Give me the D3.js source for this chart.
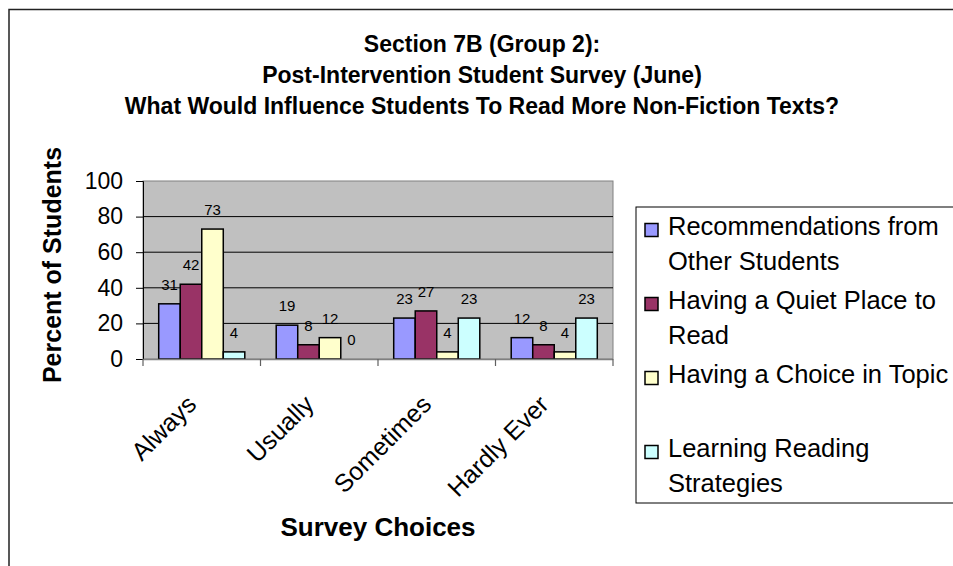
<!DOCTYPE html>
<html>
<head>
<meta charset="utf-8">
<script src="https://cdn.jsdelivr.net/npm/d3@7"></script>
<style>
  body { margin: 0; background: #fff; }
  svg { display: block; font-family: "Liberation Sans", Arial, sans-serif; }
</style>
</head>
<body>
<svg id="chart"></svg>
<script>
// chart data
const categories = ["Always", "Usually", "Sometimes", "Hardly Ever"];
const seriesNames = ["Recommendations from Other Students", "Having a Quiet Place to Read", "Having a Choice in Topic", "Learning Reading Strategies"];
const recommendations = [31, 19, 23, 12];
const quietPlace = [42, 8, 27, 8];
const choiceTopic = [73, 12, 4, 4];
const strategies = [4, 0, 23, 23];
const yTicks = [0, 20, 40, 60, 80, 100];
const titleLines = ["Section 7B (Group 2):", "Post-Intervention Student Survey (June)", "What Would Influence Students To Read More Non-Fiction Texts?"];
const legendLines = [["Recommendations from", "Other Students"], ["Having a Quiet Place to", "Read"], ["Having a Choice in Topic", ""], ["Learning Reading", "Strategies"]];

const colors = ["#9999ff", "#993366", "#ffffcc", "#ccffff"];
const allSeries = [recommendations, quietPlace, choiceTopic, strategies];

let width = 953;
let height = 566;
let plot = {left: 143, right: 613, top: 181, bottom: 359};

const svg = d3.select('#chart').attr('width', width).attr('height', height);

// outer chart border
svg.append('rect').attr('x', 9).attr('y', 9.5).attr('width', 1000).attr('height', 1000)
  .attr('fill', 'none').attr('stroke', '#222').attr('stroke-width', 1.5);

// scales
let xScale = d3.scaleBand().domain(categories).range([plot.left, plot.right]);
let subScale = d3.scaleBand().domain(d3.range(seriesNames.length))
  .range([0, xScale.bandwidth()]).paddingOuter(0.73);
let yScale = d3.scaleLinear().domain([0, 100]).range([plot.bottom, plot.top]);

// plot background
svg.append('rect').attr('x', plot.left).attr('y', plot.top)
  .attr('width', plot.right - plot.left).attr('height', plot.bottom - plot.top)
  .attr('fill', '#c0c0c0').attr('stroke', '#808080').attr('stroke-width', 1);

// gridlines
svg.append('g').selectAll('line').data(yTicks.filter(t => t > 0 && t < 100)).enter().append('line')
  .attr('x1', plot.left).attr('x2', plot.right)
  .attr('y1', d => yScale(d)).attr('y2', d => yScale(d))
  .attr('stroke', '#000').attr('stroke-width', 1);

// bars
let barData = [];
categories.forEach((c, i) => {
  allSeries.forEach((s, j) => barData.push({cat: c, s: j, v: s[i]}));
});

svg.append('g').selectAll('rect').data(barData.filter(d => d.v > 0)).enter().append('rect')
  .attr('x', d => xScale(d.cat) + subScale(d.s))
  .attr('width', subScale.bandwidth())
  .attr('y', d => yScale(d.v))
  .attr('height', d => yScale(0) - yScale(d.v))
  .attr('fill', d => colors[d.s])
  .attr('stroke', '#000').attr('stroke-width', 1.5);

// value labels
svg.append('g').selectAll('text').data(barData).enter().append('text')
  .attr('x', d => xScale(d.cat) + subScale(d.s) + subScale.bandwidth() / 2)
  .attr('y', d => yScale(d.v) - 14)
  .attr('text-anchor', 'middle')
  .attr('font-size', 15)
  .attr('fill', '#000')
  .text(d => d.v);

// y axis
let yAxis = d3.axisLeft(yScale).tickValues(yTicks).tickSize(7).tickPadding(13);
let yG = svg.append('g').attr('transform', 'translate(' + plot.left + ',0)').call(yAxis);
yG.select('.domain').attr('stroke', '#000');
yG.selectAll('.tick line').attr('stroke', '#000');
yG.selectAll('.tick text').attr('font-size', 23).attr('font-family', '"Liberation Sans", Arial, sans-serif').attr('fill', '#000');

// x axis line and boundary ticks
svg.append('line').attr('x1', plot.left).attr('x2', plot.right)
  .attr('y1', plot.bottom + 0.5).attr('y2', plot.bottom + 0.5)
  .attr('stroke', '#808080').attr('stroke-width', 1.5);
let bounds = categories.map(c => xScale(c)).concat([xScale(categories[categories.length - 1]) + xScale.bandwidth()]);
svg.append('g').selectAll('line').data(bounds).enter().append('line')
  .attr('x1', d => d).attr('x2', d => d)
  .attr('y1', plot.bottom).attr('y2', plot.bottom + 7)
  .attr('stroke', '#606060').attr('stroke-width', 1.2);

// category labels
svg.append('g').selectAll('text').data(categories).enter().append('text')
  .attr('transform', d => 'translate(' + (xScale(d) + xScale.bandwidth() / 2 - 4) + ',' + 406 + ') rotate(-45)')
  .attr('text-anchor', 'end')
  .attr('font-size', 25)
  .attr('fill', '#000')
  .text(d => d);

// titles
svg.append('g').selectAll('text').data(titleLines).enter().append('text')
  .attr('x', 482).attr('y', (d, i) => 52 + i * 31)
  .attr('text-anchor', 'middle')
  .attr('font-size', 23).attr('font-weight', 'bold')
  .text(d => d);

svg.append('text')
  .attr('transform', 'translate(61,265) rotate(-90)')
  .attr('text-anchor', 'middle')
  .attr('font-size', 25).attr('font-weight', 'bold')
  .text('Percent of Students');

svg.append('text')
  .attr('x', (plot.left + plot.right) / 2).attr('y', 536)
  .attr('text-anchor', 'middle')
  .attr('font-size', 26).attr('font-weight', 'bold')
  .text('Survey Choices');

// legend
svg.append('rect').attr('x', 636).attr('y', 207).attr('width', 400).attr('height', 296)
  .attr('fill', '#fff').attr('stroke', '#000').attr('stroke-width', 1);

let legend = svg.append('g').selectAll('g').data(seriesNames).enter().append('g')
  .attr('transform', (d, i) => 'translate(645,' + (230 + i * 74) + ')');
legend.append('rect').attr('x', 0).attr('y', -6.5).attr('width', 13).attr('height', 13)
  .attr('fill', (d, i) => colors[i]).attr('stroke', '#000').attr('stroke-width', 1.5);
legend.each(function (d, i) {
  let t = d3.select(this).append('text').attr('font-size', 25.5).attr('fill', '#000');
  legendLines[i].forEach((line, k) => {
    t.append('tspan').attr('x', 23).attr('y', 5 + k * 35).text(line);
  });
});
</script>
</body>
</html>
